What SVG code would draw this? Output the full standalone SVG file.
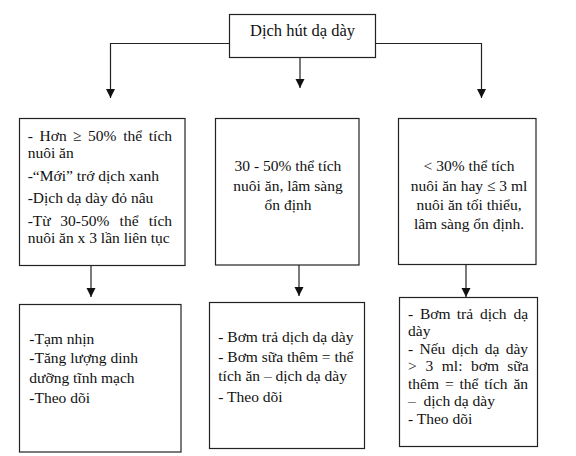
<svg xmlns="http://www.w3.org/2000/svg" width="576" height="456" viewBox="0 0 576 456">
<style>
.box{fill:#fff;stroke:#222;stroke-width:1.2}
.c{fill:none;stroke:#222;stroke-width:1.2}
text{font-family:"Liberation Serif","Times New Roman",serif;font-size:15.5px;fill:#111}
.mid{text-anchor:middle}
</style>
<defs>
<marker id="ah" markerUnits="userSpaceOnUse" markerWidth="10" markerHeight="12" refX="9" refY="5" orient="auto" viewBox="0 0 10 10">
<path d="M0,0.5 L9,5 L0,9.5 Z" fill="#111"/>
</marker>
</defs>
<g id="connectors">
<path class="c" d="M229,43.5 H110.5 V98" marker-end="url(#ah)"/>
<path class="c" d="M300,57 V88" marker-end="url(#ah)"/>
<path class="c" d="M375,43.5 H481.5 V98" marker-end="url(#ah)"/>
<path class="c" d="M91,265 V297" marker-end="url(#ah)"/>
<path class="c" d="M299,265 V296" marker-end="url(#ah)"/>
<path class="c" d="M466,264 V297" marker-end="url(#ah)"/>
</g>
<g id="root">
<rect class="box" x="229.5" y="14.5" width="146" height="43"/>
<text class="mid" x="302.5" y="36" style="font-size:16.5px">Dịch hút dạ dày</text>
</g>
<g id="n_high">
<rect class="box" x="19.5" y="118.5" width="165.5" height="147"/>
<text y="140.5"><tspan x="27.7">-</tspan><tspan x="39.5">Hơn</tspan><tspan x="72.9">≥</tspan><tspan x="88.1">50%</tspan><tspan x="123.2">thể</tspan><tspan x="148.8">tích</tspan></text>
<text x="27.7" y="157.5">nuôi ăn</text>
<text x="27.7" y="180.5">-“Mới” trớ dịch xanh</text>
<text x="27.7" y="202.5">-Dịch dạ dày đỏ nâu</text>
<text y="225.5"><tspan x="27.7">-Từ</tspan><tspan x="60.3">30-50%</tspan><tspan x="119.6">thể</tspan><tspan x="148.8">tích</tspan></text>
<text x="27.7" y="242.5">nuôi ăn x 3 lần liên tục</text>
</g>
<g id="n_mid">
<rect class="box" x="215.5" y="118.5" width="143.5" height="146.5"/>
<text class="mid" x="288" y="171">30 - 50% thể tích</text>
<text class="mid" x="288" y="191">nuôi ăn, lâm sàng</text>
<text class="mid" x="288" y="210">ổn định</text>
</g>
<g id="n_low">
<rect class="box" x="398.5" y="118.5" width="137.5" height="146"/>
<text class="mid" x="469" y="171">&lt; 30% thể tích</text>
<text class="mid" x="469" y="191">nuôi ăn hay ≤ 3 ml</text>
<text class="mid" x="469" y="210">nuôi ăn tối thiểu,</text>
<text class="mid" x="469" y="229">lâm sàng ổn định.</text>
</g>
<g id="a_high">
<rect class="box" x="19.5" y="304.5" width="161.5" height="147.5"/>
<text x="29.3" y="344">-Tạm nhịn</text>
<text x="29.3" y="363.3">-Tăng lượng dinh</text>
<text x="29.3" y="382.7">dưỡng tĩnh mạch</text>
<text x="29.3" y="402.7">-Theo dõi</text>
</g>
<g id="a_mid">
<rect class="box" x="209.5" y="302.5" width="155" height="146"/>
<text x="218.3" y="342.3">- Bơm trả dịch dạ dày</text>
<text x="218.3" y="362.3">- Bơm sữa thêm = thể</text>
<text x="218.3" y="381">tích ăn – dịch dạ dày</text>
<text x="218.3" y="401.7">- Theo dõi</text>
</g>
<g id="a_low">
<rect class="box" x="399.5" y="297.5" width="138" height="149"/>
<text y="319"><tspan x="408">-</tspan><tspan x="419.9">Bơm</tspan><tspan x="456.8">trả</tspan><tspan x="479.9">dịch</tspan><tspan x="513.4">dạ</tspan></text>
<text x="408" y="335.5">dày</text>
<text y="353.5"><tspan x="408">-</tspan><tspan x="419.5">Nếu</tspan><tspan x="451.7">dịch</tspan><tspan x="484.7">dạ</tspan><tspan x="505.7">dày</tspan></text>
<text y="371"><tspan x="408">&gt;</tspan><tspan x="425.4">3</tspan><tspan x="441.8">ml:</tspan><tspan x="471.1">bơm</tspan><tspan x="507.3">sữa</tspan></text>
<text y="389"><tspan x="408">thêm</tspan><tspan x="444.9">=</tspan><tspan x="459.5">thể</tspan><tspan x="484.3">tích</tspan><tspan x="513.4">ăn</tspan></text>
<text y="406"><tspan x="408">–</tspan><tspan x="423.5">dịch dạ dày</tspan></text>
<text x="408" y="423.5">- Theo dõi</text>
</g>
</svg>
